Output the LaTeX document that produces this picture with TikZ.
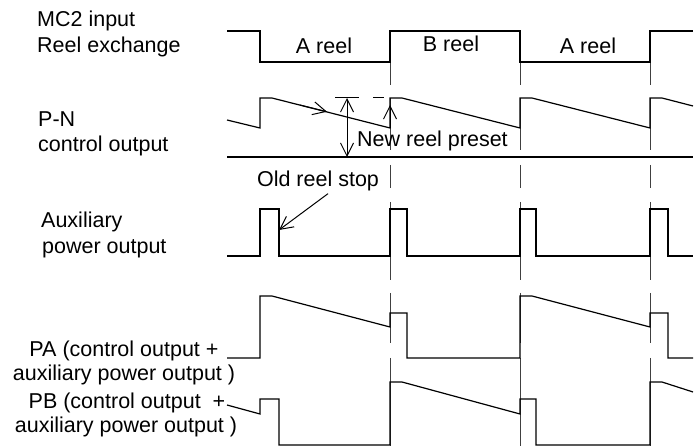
\documentclass[tikz,border=0pt]{standalone}
\usepackage{fontspec}
\setmainfont{Liberation Sans}
\usetikzlibrary{arrows.meta}

\begin{document}
\begin{tikzpicture}[x=1pt, y=-1pt,
    sig/.style={line width=1.2pt, line join=miter},
    guide/.style={line width=0.55pt, black!75},
    lbl/.style={inner sep=0pt, font=\fontsize{21.5}{24}\selectfont},
    arrow/.style={-{Straight Barb[length=13pt,width=13pt]}, line width=1pt},
    dblarrow/.style={{Straight Barb[length=13pt,width=13pt]}-{Straight Barb[length=13pt,width=13pt]}, line width=1pt}
  ]
  \useasboundingbox (0,0) rectangle (694,446);

  % row labels
  \node[lbl, anchor=base west] (mc2) at (37,27) {MC2 input};
  \node[lbl, anchor=base west] (exch) at (37,53) {Reel exchange};
  \node[lbl, anchor=base west] (pn) at (38,127) {P-N};
  \node[lbl, anchor=base west] (pnout) at (38,152) {control output};
  \node[lbl, anchor=base west] (aux) at (41,228) {Auxiliary};
  \node[lbl, anchor=base west] (auxout) at (42,254) {power output};
  \node[lbl, anchor=base] (pa) at (124,357) {PA (control output +};
  \node[lbl, anchor=base] (paout) at (124,381) {auxiliary power output )};
  \node[lbl, anchor=base] (pb) at (127,409) {PB (control output~~+};
  \node[lbl, anchor=base] (pbout) at (126,433) {auxiliary power output )};

  % reel names
  \node[lbl, anchor=base] (reela) at (324,54) {A reel};
  \node[lbl, anchor=base] (reelb) at (451,52) {B reel};
  \node[lbl, anchor=base] (reelc) at (588,54) {A reel};

  % exchange guides
  \foreach \x in {390,520,650}
    \foreach \a/\b in {62/85,98/150,165/188,202/280,293/343,358/446}
      \draw[guide] (\x,\a) -- (\x,\b);

  % MC2 input
  \draw[sig] (227,31) -| (260,62) -| (390,31) -| (520,62) -| (650,31) -- (693,31);

  % P-N control output
  \draw[sig] (227,120) -- (260,128) -- (260,98) -- (272,98) -- (390,128) -- (390,98)
    -- (402,98) -- (520,128) -- (520,98) -- (532,98) -- (650,128) -- (650,98)
    -- (662,98) -- (693,106);
  \draw[sig] (227,157) -- (693,157);
  \draw[arrow] (300,105) -- (327,111.75);
  \draw[arrow] (390,128) -- (390,105);
  \draw[line width=1pt] (335,98) -- (359,98) (373,98) -- (384,98);
  \draw[dblarrow] (347,98) -- (347,157);
  \node[lbl, anchor=base west] (preset) at (357,147) {New reel preset};

  % auxiliary power output
  \draw[sig] (227,256) -| (260,209) -| (279,256) -| (390,209) -| (407,256)
    -| (520,209) -| (536,256) -| (650,209) -| (668,256) -- (693,256);
  \node[lbl, anchor=base] (oldstop) at (318,187) {Old reel stop};
  \coordinate (stoptip) at (279,230);
  \draw[arrow] ([xshift=10pt,yshift=-2pt]oldstop.south) -- (stoptip);

  % PA
  \draw[sig] (227,358) -| (260,296) -- (272,296) -- (390,327) -- (390,313) -| (407,358)
    -| (520,296) -- (532,296) -- (650,327) -- (650,313) -| (668,358) -- (693,358);

  % PB
  \draw[sig] (227,405) -- (260,414) -- (260,399) -| (279,445) -| (390,382) -- (402,382)
    -- (520,414) -- (520,399) -| (536,445) -| (650,382) -- (662,382) -- (693,392);
\end{tikzpicture}
\end{document}
